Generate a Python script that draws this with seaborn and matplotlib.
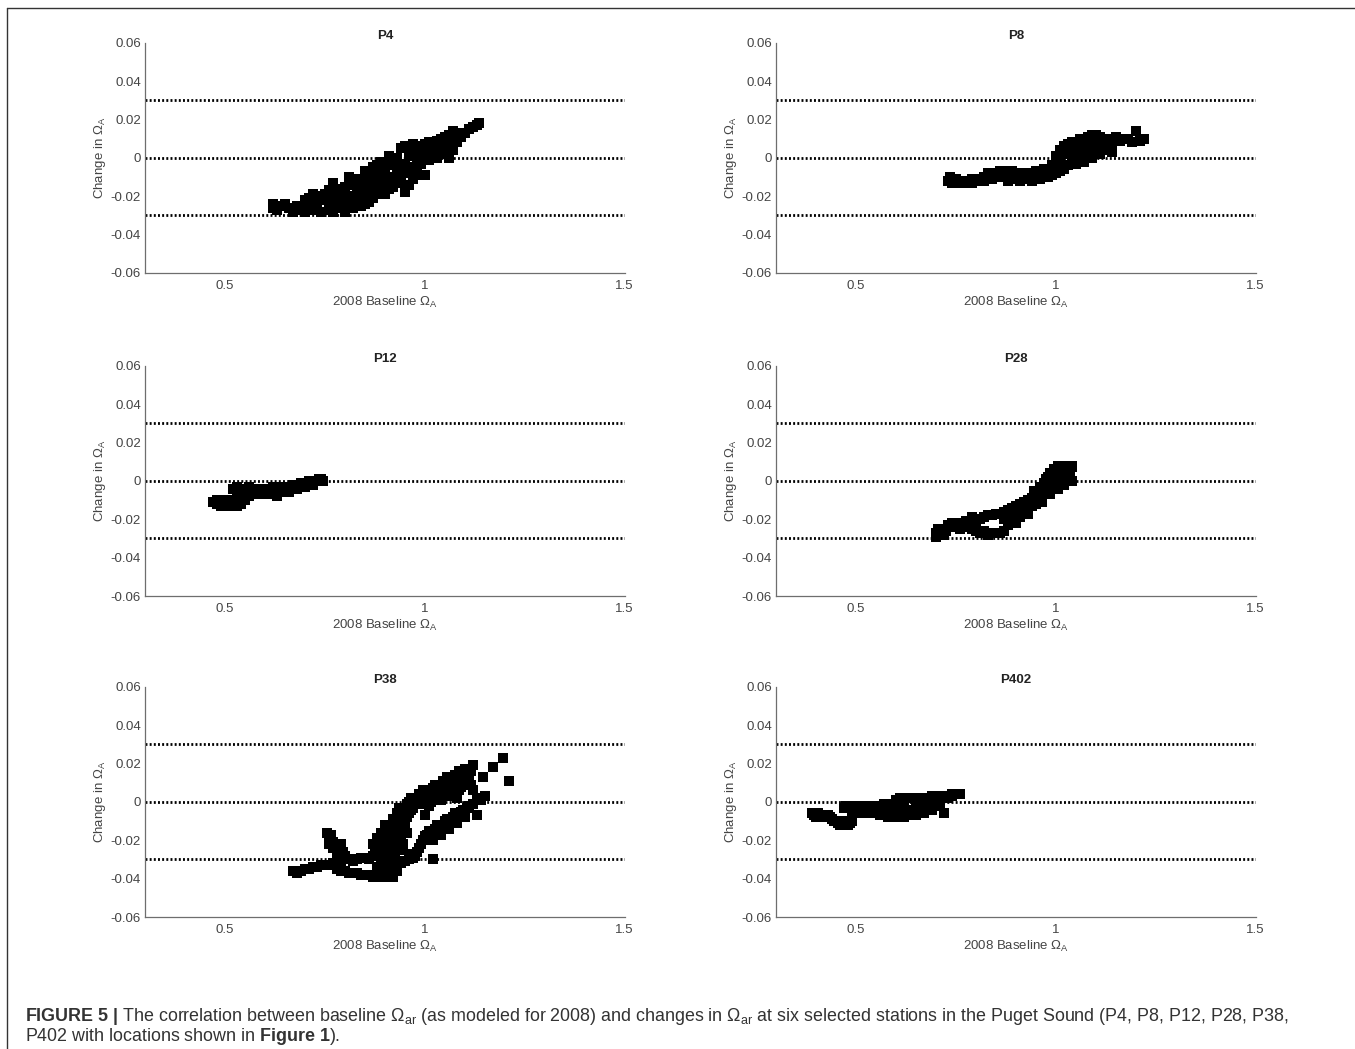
import matplotlib
matplotlib.use("Agg")
import matplotlib.pyplot as plt
import seaborn as sns
import pandas as pd
from matplotlib.lines import Line2D

# (baseline omega, change in omega) pairs
p4_points = [
    (0.62, -0.024), (0.62, -0.026), (0.63, -0.027), (0.64, -0.025), (0.65, -0.024), (0.66, -0.026),
    (0.67, -0.028), (0.68, -0.027), (0.68, -0.025), (0.69, -0.026), (0.70, -0.028), (0.70, -0.022),
    (0.71, -0.024), (0.71, -0.021), (0.72, -0.027), (0.72, -0.025), (0.72, -0.019), (0.73, -0.022),
    (0.73, -0.026), (0.74, -0.028), (0.74, -0.020), (0.75, -0.022), (0.75, -0.019), (0.76, -0.027),
    (0.76, -0.024), (0.76, -0.017), (0.76, -0.021), (0.77, -0.028), (0.77, -0.020), (0.77, -0.013),
    (0.78, -0.026), (0.78, -0.021), (0.78, -0.018), (0.79, -0.023), (0.79, -0.016), (0.80, -0.028),
    (0.80, -0.025), (0.80, -0.021), (0.80, -0.018), (0.80, -0.015), (0.81, -0.010), (0.81, -0.020),
    (0.81, -0.024), (0.82, -0.026), (0.82, -0.022), (0.82, -0.014), (0.83, -0.016), (0.83, -0.011),
    (0.83, -0.021), (0.84, -0.025), (0.84, -0.022), (0.84, -0.019), (0.84, -0.012), (0.85, -0.007),
    (0.85, -0.013), (0.85, -0.018), (0.85, -0.024), (0.86, -0.016), (0.86, -0.020), (0.86, -0.023),
    (0.86, -0.009), (0.87, -0.010), (0.87, -0.005), (0.87, -0.015), (0.87, -0.021), (0.88, -0.004),
    (0.88, -0.012), (0.88, -0.019), (0.88, -0.008), (0.89, -0.013), (0.89, -0.007), (0.89, -0.018),
    (0.89, -0.002), (0.90, -0.008), (0.90, -0.002), (0.90, -0.015), (0.90, -0.019), (0.91, -0.016),
    (0.91, -0.004), (0.91, -0.010), (0.91, 0.001), (0.92, -0.011), (0.92, -0.001), (0.92, -0.015),
    (0.93, -0.006), (0.93, 0.000), (0.93, -0.010), (0.94, 0.005), (0.94, -0.013), (0.94, -0.003),
    (0.95, -0.018), (0.95, -0.003), (0.95, 0.006), (0.95, -0.008), (0.96, -0.008), (0.96, 0.002),
    (0.96, -0.014), (0.96, 0.005), (0.97, 0.007), (0.97, -0.011), (0.97, 0.001), (0.97, -0.005),
    (0.98, -0.004), (0.98, -0.009), (0.98, 0.003), (0.99, 0.001), (0.99, 0.006), (0.99, -0.003),
    (1.00, 0.004), (1.00, -0.009), (1.00, 0.007), (1.01, -0.001), (1.01, 0.008), (1.01, 0.003),
    (1.02, 0.007), (1.02, 0.001), (1.03, 0.003), (1.03, 0.009), (1.03, 0.000), (1.04, 0.010),
    (1.04, 0.005), (1.05, 0.006), (1.05, 0.011), (1.05, 0.002), (1.06, 0.000), (1.06, 0.012),
    (1.06, 0.007), (1.07, 0.009), (1.07, 0.014), (1.07, 0.004), (1.08, 0.013), (1.08, 0.008),
    (1.09, 0.011), (1.10, 0.013), (1.11, 0.015), (1.12, 0.016), (1.13, 0.017), (1.135, 0.018),
]

p8_points = [
    (0.73, -0.012), (0.735, -0.010), (0.74, -0.013), (0.745, -0.013), (0.75, -0.011), (0.755, -0.012),
    (0.76, -0.012), (0.77, -0.013), (0.78, -0.012), (0.79, -0.011), (0.79, -0.013), (0.80, -0.012),
    (0.81, -0.011), (0.82, -0.010), (0.82, -0.012), (0.83, -0.008), (0.84, -0.011), (0.84, -0.008),
    (0.85, -0.009), (0.86, -0.007), (0.86, -0.010), (0.87, -0.010), (0.87, -0.007), (0.88, -0.008),
    (0.88, -0.012), (0.89, -0.010), (0.89, -0.007), (0.90, -0.008), (0.90, -0.011), (0.91, -0.012),
    (0.92, -0.010), (0.92, -0.008), (0.93, -0.008), (0.93, -0.011), (0.94, -0.012), (0.94, -0.009),
    (0.95, -0.007), (0.96, -0.011), (0.96, -0.008), (0.97, -0.006), (0.98, -0.010), (0.98, -0.007),
    (0.99, -0.004), (0.99, -0.009), (1.00, -0.008), (1.00, 0.001), (1.00, -0.005), (1.01, -0.002),
    (1.01, 0.004), (1.01, -0.007), (1.02, -0.006), (1.02, 0.006), (1.02, 0.002), (1.03, 0.002),
    (1.03, -0.004), (1.03, 0.007), (1.04, 0.008), (1.04, 0.004), (1.04, -0.001), (1.05, 0.004),
    (1.05, -0.003), (1.05, 0.008), (1.06, 0.010), (1.06, 0.000), (1.06, 0.005), (1.07, 0.006),
    (1.07, -0.002), (1.07, 0.010), (1.08, 0.011), (1.08, 0.003), (1.08, 0.007), (1.09, 0.008),
    (1.09, 0.000), (1.09, 0.012), (1.09, 0.004), (1.10, 0.012), (1.10, 0.004), (1.10, 0.009),
    (1.11, 0.002), (1.11, 0.011), (1.11, 0.006), (1.12, 0.009), (1.12, 0.004), (1.13, 0.006),
    (1.13, 0.010), (1.14, 0.003), (1.14, 0.008), (1.15, 0.011), (1.16, 0.009), (1.17, 0.010),
    (1.18, 0.010), (1.19, 0.008), (1.20, 0.014), (1.21, 0.009), (1.22, 0.010),
]

p12_points = [
    (0.47, -0.011), (0.48, -0.010), (0.48, -0.012), (0.49, -0.011), (0.49, -0.013), (0.50, -0.013),
    (0.50, -0.010), (0.51, -0.010), (0.51, -0.013), (0.52, -0.012), (0.52, -0.010), (0.53, -0.013),
    (0.53, -0.008), (0.54, -0.009), (0.54, -0.012), (0.55, -0.010), (0.52, -0.004), (0.53, -0.003),
    (0.54, -0.004), (0.55, -0.004), (0.56, -0.008), (0.56, -0.003), (0.56, -0.006), (0.57, -0.004),
    (0.57, -0.007), (0.58, -0.007), (0.58, -0.004), (0.59, -0.005), (0.59, -0.007), (0.60, -0.007),
    (0.60, -0.004), (0.61, -0.004), (0.61, -0.007), (0.62, -0.006), (0.62, -0.003), (0.63, -0.003),
    (0.63, -0.008), (0.64, -0.005), (0.64, -0.003), (0.65, -0.003), (0.65, -0.006), (0.66, -0.006),
    (0.66, -0.003), (0.67, -0.004), (0.67, -0.002), (0.68, -0.002), (0.68, -0.004), (0.69, -0.003),
    (0.69, -0.001), (0.70, -0.001), (0.70, -0.003), (0.71, -0.002), (0.71, 0.000), (0.72, 0.000),
    (0.72, -0.002), (0.73, 0.000), (0.735, 0.001), (0.74, 0.001), (0.745, 0.000),
]

p28_points = [
    (0.70, -0.027), (0.70, -0.029), (0.705, -0.025), (0.71, -0.025), (0.715, -0.028), (0.72, -0.028),
    (0.725, -0.026), (0.73, -0.023), (0.735, -0.024), (0.74, -0.022), (0.745, -0.023), (0.75, -0.024),
    (0.755, -0.022), (0.76, -0.025), (0.765, -0.024), (0.77, -0.023), (0.775, -0.021), (0.78, -0.021),
    (0.785, -0.023), (0.79, -0.019), (0.79, -0.025), (0.80, -0.022), (0.80, -0.026), (0.81, -0.027),
    (0.81, -0.020), (0.82, -0.019), (0.82, -0.026), (0.83, -0.028), (0.83, -0.018), (0.84, -0.018),
    (0.84, -0.027), (0.85, -0.027), (0.85, -0.017), (0.86, -0.017), (0.86, -0.027), (0.87, -0.026),
    (0.87, -0.016), (0.87, -0.020), (0.88, -0.015), (0.88, -0.023), (0.89, -0.021), (0.89, -0.014),
    (0.89, -0.017), (0.90, -0.013), (0.90, -0.019), (0.90, -0.022), (0.91, -0.016), (0.91, -0.012),
    (0.91, -0.019), (0.92, -0.011), (0.92, -0.015), (0.93, -0.014), (0.93, -0.010), (0.93, -0.017),
    (0.94, -0.009), (0.94, -0.013), (0.945, -0.005), (0.95, -0.012), (0.95, -0.006), (0.955, -0.009),
    (0.96, -0.003), (0.96, -0.009), (0.965, -0.006), (0.965, -0.011), (0.97, -0.001), (0.97, -0.007),
    (0.975, -0.004), (0.975, 0.001), (0.98, 0.002), (0.98, -0.005), (0.985, -0.007), (0.985, 0.004),
    (0.99, 0.004), (0.99, -0.003), (0.995, 0.000), (0.995, 0.006), (1.00, 0.006), (1.00, -0.001),
    (1.005, -0.004), (1.005, 0.008), (1.01, 0.005), (1.01, 0.000), (1.015, 0.003), (1.02, 0.007),
    (1.02, -0.002), (1.025, 0.005), (1.03, 0.008), (1.03, 0.002), (1.035, 0.004), (1.04, 0.007),
    (1.04, 0.000), (1.04, 0.008),
]

p38_points = [
    # low tail on the left
    (0.67, -0.036), (0.68, -0.037), (0.69, -0.036), (0.70, -0.035), (0.71, -0.035), (0.72, -0.034),
    (0.73, -0.034), (0.74, -0.033), (0.75, -0.033), (0.76, -0.033), (0.77, -0.032), (0.78, -0.031),
    (0.79, -0.031), (0.80, -0.030), (0.81, -0.030), (0.82, -0.031), (0.83, -0.030), (0.84, -0.029),
    (0.85, -0.029), (0.86, -0.030),
    # lower curve
    (0.78, -0.035), (0.79, -0.036), (0.80, -0.036), (0.81, -0.037), (0.82, -0.037), (0.83, -0.037),
    (0.84, -0.038), (0.85, -0.038), (0.86, -0.038), (0.87, -0.039), (0.88, -0.039), (0.89, -0.038),
    (0.90, -0.039), (0.91, -0.039), (0.92, -0.039), (0.93, -0.036), (0.91, -0.033),
    (0.88, -0.034), (0.89, -0.032), (0.90, -0.030), (0.90, -0.035), (0.92, -0.031), (0.92, -0.035),
    # spur
    (0.755, -0.016), (0.76, -0.019), (0.765, -0.017), (0.76, -0.022), (0.77, -0.021), (0.77, -0.024),
    (0.78, -0.026), (0.785, -0.024), (0.79, -0.022), (0.795, -0.026), (0.78, -0.029), (0.80, -0.028),
    # main band
    (0.87, -0.028), (0.87, -0.022), (0.875, -0.025), (0.88, -0.025), (0.88, -0.019), (0.885, -0.022),
    (0.885, -0.028), (0.89, -0.027), (0.89, -0.016), (0.895, -0.019), (0.895, -0.024), (0.90, -0.021),
    (0.90, -0.012), (0.905, -0.015), (0.905, -0.023), (0.91, -0.025), (0.91, -0.017), (0.915, -0.012),
    (0.915, -0.021), (0.92, -0.009), (0.92, -0.020), (0.925, -0.017), (0.925, -0.011), (0.925, -0.027),
    (0.93, -0.014), (0.93, -0.006), (0.935, -0.009), (0.935, -0.003), (0.935, -0.025), (0.94, -0.018),
    (0.94, -0.009), (0.945, -0.006), (0.945, -0.013), (0.945, -0.022), (0.95, -0.003), (0.95, -0.012),
    (0.955, -0.016), (0.955, -0.001), (0.955, -0.008), (0.96, -0.006), (0.96, 0.000), (0.96, -0.027),
    (0.965, 0.002), (0.965, -0.004), (0.97, -0.003), (0.97, 0.002), (0.975, -0.001), (0.98, -0.001),
    (0.985, 0.002), (0.985, 0.004), (0.99, 0.003), (0.995, 0.006), (0.995, -0.001), (1.00, 0.001),
    (1.00, 0.005), (1.005, 0.003), (1.01, -0.002), (1.015, 0.006), (1.015, 0.000), (1.02, 0.007),
    (1.02, 0.002), (1.025, 0.009), (1.025, 0.004), (1.03, 0.005), (1.035, 0.008), (1.035, 0.002),
    (1.04, 0.009), (1.04, 0.001), (1.045, 0.005), (1.045, 0.011), (1.05, 0.006), (1.05, 0.011),
    (1.055, 0.008), (1.055, 0.013), (1.06, 0.003), (1.06, 0.013), (1.065, 0.010), (1.065, 0.005),
    (1.07, 0.008), (1.075, 0.014), (1.075, 0.011), (1.08, 0.012), (1.08, 0.002), (1.085, 0.016),
    (1.085, 0.006), (1.09, 0.015), (1.09, 0.008), (1.095, 0.012), (1.10, 0.017), (1.10, 0.011),
    (1.105, 0.014), (1.11, 0.013), (1.115, 0.016), (1.115, 0.009), (1.12, 0.019), (1.12, 0.006),
    # second, lower strand
    (0.93, -0.033), (0.94, -0.032), (0.95, -0.031), (0.96, -0.030), (0.97, -0.029), (0.975, -0.028),
    (0.98, -0.026), (0.985, -0.024), (0.99, -0.022), (0.995, -0.020), (1.00, -0.018), (1.005, -0.017),
    (1.01, -0.015), (1.015, -0.018), (1.02, -0.030), (1.02, -0.020), (1.025, -0.014), (1.03, -0.012),
    (1.035, -0.015), (1.04, -0.017), (1.045, -0.012), (1.05, -0.010), (1.055, -0.009), (1.06, -0.014),
    (1.065, -0.011), (1.07, -0.008), (1.075, -0.006), (1.08, -0.011), (1.085, -0.008), (1.09, -0.005),
    (1.095, -0.004), (1.10, -0.008), (1.105, -0.003), (1.11, -0.002), (1.12, -0.001), (1.13, -0.007),
    (1.13, 0.002), (1.14, 0.001), (1.15, 0.003),
    # scattered squares
    (1.145, 0.013), (1.17, 0.018), (1.195, 0.023), (1.21, 0.011), (1.00, -0.007),
]

p402_points = [
    (0.39, -0.006), (0.395, -0.007), (0.40, -0.008), (0.405, -0.006), (0.41, -0.007), (0.415, -0.008),
    (0.42, -0.008), (0.425, -0.007), (0.43, -0.007), (0.435, -0.008), (0.44, -0.009), (0.445, -0.010),
    (0.45, -0.010), (0.455, -0.011), (0.46, -0.012), (0.465, -0.010), (0.47, -0.011), (0.475, -0.012),
    (0.48, -0.012), (0.485, -0.011), (0.49, -0.010), (0.49, -0.008), (0.47, -0.003), (0.475, -0.002),
    (0.48, -0.002), (0.49, -0.004), (0.50, -0.006), (0.50, -0.002), (0.51, -0.003), (0.51, -0.006),
    (0.52, -0.005), (0.52, -0.002), (0.53, -0.003), (0.53, -0.006), (0.54, -0.006), (0.54, -0.002),
    (0.55, -0.004), (0.55, -0.006), (0.56, -0.002), (0.56, -0.004), (0.56, -0.007), (0.57, -0.005),
    (0.57, -0.001), (0.58, -0.001), (0.58, -0.005), (0.58, -0.008), (0.59, -0.007), (0.59, -0.003),
    (0.60, 0.001), (0.60, -0.002), (0.60, -0.006), (0.60, -0.008), (0.61, -0.005), (0.61, 0.002),
    (0.62, -0.001), (0.62, 0.002), (0.62, -0.005), (0.62, -0.008), (0.63, -0.007), (0.63, 0.002),
    (0.64, -0.004), (0.64, 0.002), (0.64, -0.007), (0.65, 0.001), (0.65, -0.002), (0.65, -0.007),
    (0.66, -0.003), (0.66, 0.002), (0.66, -0.006), (0.67, -0.006), (0.67, 0.002), (0.68, -0.001),
    (0.68, 0.002), (0.68, -0.004), (0.69, 0.003), (0.69, -0.004), (0.70, -0.002), (0.70, 0.002),
    (0.71, 0.003), (0.71, -0.001), (0.72, -0.006), (0.72, 0.003), (0.73, 0.002), (0.74, 0.004),
    (0.74, 0.003), (0.75, 0.004), (0.76, 0.004),
]

stations = ["P4", "P8", "P12", "P28", "P38", "P402"]
station_points = [p4_points, p8_points, p12_points, p28_points, p38_points, p402_points]
ref_lines = [0.03, 0.0, -0.03]
yticks = [-0.06, -0.04, -0.02, 0, 0.02, 0.04, 0.06]
ytick_labels = ["-0.06", "-0.04", "-0.02", "0", "0.02", "0.04", "0.06"]
xticks = [0.5, 1, 1.5]
xtick_labels = ["0.5", "1", "1.5"]

sns.set_style("white")
plt.rcParams["font.family"] = ["Liberation Sans", "DejaVu Sans"]
plt.rcParams["mathtext.fontset"] = "custom"
plt.rcParams["mathtext.rm"] = "Liberation Sans"
plt.rcParams["mathtext.it"] = "Liberation Sans"
plt.rcParams["mathtext.bf"] = "Liberation Sans:bold"

fig = plt.figure(figsize=(13.55, 10.49), dpi=100)

col_left = [0.107, 0.5727]
row_bottom = [0.7398, 0.4318, 0.1258]
ax_w, ax_h = 0.354, 0.2195

axis_grey = "#6e6e6e"
label_grey = "#444444"

for i, name in enumerate(stations):
    r, c = divmod(i, 2)
    ax = fig.add_axes([col_left[c], row_bottom[r], ax_w, ax_h])
    df = pd.DataFrame(station_points[i], columns=["baseline", "change"])
    for yl in ref_lines:
        ax.axhline(yl, color="black", lw=2.0, linestyle=(0, (0.7, 0.8)), zorder=1)
    sns.scatterplot(data=df, x="baseline", y="change", ax=ax, marker="s", s=50,
                    color="black", linewidth=0, zorder=3)
    ax.set_xlim(0.3, 1.5)
    ax.set_ylim(-0.06, 0.06)
    ax.set_xticks(xticks)
    ax.set_xticklabels(xtick_labels)
    ax.set_yticks(yticks)
    ax.set_yticklabels(ytick_labels)
    ax.tick_params(direction="in", length=4, width=0.8, color=axis_grey,
                   labelsize=9.5, labelcolor=label_grey)
    ax.tick_params(axis="x", pad=5)
    ax.tick_params(axis="y", pad=3)
    for side in ["top", "right"]:
        ax.spines[side].set_visible(False)
    for side in ["left", "bottom"]:
        ax.spines[side].set_color(axis_grey)
        ax.spines[side].set_linewidth(0.9)
    ax.set_title(name, fontsize=9.5, fontweight="bold", color="#222222", pad=3)
    ax.set_xlabel(r"2008 Baseline $\Omega_{\mathrm{A}}$", fontsize=9.5, color=label_grey, labelpad=2)
    ax.set_ylabel(r"Change in $\Omega_{\mathrm{A}}$", fontsize=9.5, color=label_grey, labelpad=2)

# frame lines of the figure panel
fig.add_artist(Line2D([0.005, 0.005], [0.0, 0.9924], color="#333333", lw=1.0, transform=fig.transFigure))
fig.add_artist(Line2D([0.005, 1.0], [0.9924, 0.9924], color="#333333", lw=1.0, transform=fig.transFigure))

cap1 = (r"$\mathbf{FIGURE\ 5\ |}$ The correlation between baseline $\Omega_{\mathrm{ar}}$ (as modeled for 2008) "
        r"and changes in $\Omega_{\mathrm{ar}}$ at six selected stations in the Puget Sound (P4, P8, P12, P28, P38,")
cap2 = r"P402 with locations shown in $\mathbf{Figure\ 1}$)."
fig.text(25 / 1355, 1 - 1021 / 1049, cap1, fontsize=12.9, color="#333333", ha="left", va="baseline")
fig.text(25 / 1355, 1 - 1041 / 1049, cap2, fontsize=12.9, color="#333333", ha="left", va="baseline")

fig.savefig("out.png", dpi=100)
